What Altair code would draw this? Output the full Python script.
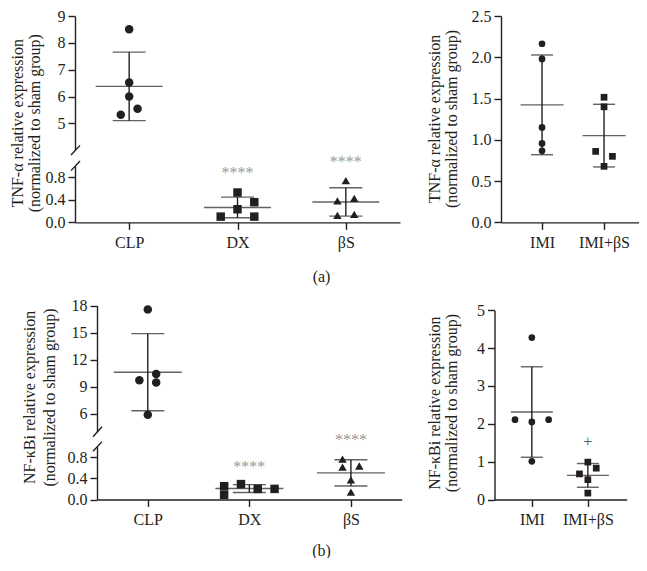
import altair as alt
import pandas as pd

FONT = "Liberation Serif"
INK = "#231f20"
STAR = "#9a9a9a"
FS = 16

# ---------------- data ----------------
# (a) left : TNF-alpha (broken axis)
a_groups = ["CLP", "DX", "βS"]
a_clp = [8.51, 6.52, 6.00, 5.54, 5.32]
a_clp_slot = [0, 0, 0, 1, -1]
a_dx = [0.528, 0.357, 0.233, 0.102, 0.102]
a_dx_slot = [0, 2, 0, -2, 2]
a_bs = [0.737, 0.379, 0.424, 0.124, 0.141]
a_bs_slot = [0, -1, 1, -1, 1]
a_star_groups = ["DX", "βS"]
a_star_pos = [0.907, 1.094]

# (a) right : TNF-alpha
ar_groups = ["IMI", "IMI+βS"]
ar_imi = [2.164, 1.98, 1.15, 0.957, 0.868]
ar_imi_slot = [0, 0, 0, 0, 0]
ar_ibs = [1.516, 1.40, 0.86, 0.80, 0.679]
ar_ibs_slot = [0, 0, -1, 1, 0]

# (b) left : NF-kBi (broken axis)
b_clp = [17.57, 10.41, 9.70, 9.46, 5.87]
b_clp_slot = [0, 1, -1, 1, 0]
b_dx = [0.25, 0.09, 0.29, 0.20, 0.20]
b_dx_slot = [-3, -3, -1, 1, 3]
b_bs = [0.76, 0.61, 0.63, 0.37, 0.14]
b_bs_slot = [-1, -1, 1, 0, 0]
b_star_groups = ["DX", "βS"]
b_star_pos = [0.65, 1.16]

# (b) right : NF-kBi
br_imi = [4.28, 2.11, 2.05, 2.11, 1.01]
br_imi_slot = [0, -2, 0, 2, 0]
br_ibs = [0.988, 0.828, 0.676, 0.524, 0.169]
br_ibs_slot = [0, 1, -1, 0, 0]
br_plus_group = ["IMI+βS"]
br_plus_pos = [1.495]

SHAPE_DOM = ["CLP", "DX", "βS", "IMI", "IMI+βS"]
SHAPE_RANGE = ["circle", "square", "triangle-up", "circle", "square"]

TNF_TITLE = ["TNF-α relative expression", "(normalized to sham group)"]
NFK_TITLE = ["NF-κBi relative expression", "(normalized to sham group)"]


def frame(pairs):
    rows = []
    for g, vals, slots in pairs:
        for v, s in zip(vals, slots):
            rows.append({"group": g, "v": v, "slot": s})
    return pd.DataFrame(rows)


def xenc(groups, rng, pad, align, xoff, title, tx, ty):
    return alt.X("group:N", sort=groups,
                 scale=alt.Scale(type="point", domain=groups, range=rng, padding=pad, align=align),
                 axis=alt.Axis(title=title, titleX=tx, titleY=ty, titleAngle=0, titleAlign="center",
                               titleBaseline="middle", offset=xoff, labelAngle=0, labelPadding=5,
                               grid=False))


def ymaker(dom, rng, vals, fmt, yoff, title=None, tx=0, ty=0, lh=17):
    def Y(field):
        ax = dict(values=vals, format=fmt, orient="left", offset=yoff, grid=False, labelPadding=3)
        if title is not None:
            ax.update(title=title, titleX=tx, titleY=ty, titleLineHeight=lh, titleAngle=-90,
                      titleBaseline="bottom", titleAlign="center")
        else:
            ax["title"] = None
        return alt.Y(field, type="quantitative",
                     scale=alt.Scale(domain=dom, range=rng, nice=False, zero=False),
                     axis=alt.Axis(**ax))
    return Y


def marks(df, X, Y, slot_px, pt, mean_w, cap_w, texts=None, text_dy=7, text_color=STAR,
          brk=None, brk_x=(0, 0)):
    base = alt.Chart(df)
    pts = base.mark_point(filled=True, opacity=1, size=pt, color=INK, strokeWidth=0).encode(
        x=X,
        xOffset=alt.XOffset("slot:Q", scale=alt.Scale(domain=[-1, 1], range=[-slot_px, slot_px])),
        y=Y("v"),
        shape=alt.Shape("group:N", scale=alt.Scale(domain=SHAPE_DOM, range=SHAPE_RANGE), legend=None),
    )
    stats = base.transform_aggregate(m="mean(v)", s="stdev(v)", groupby=["group"]).transform_calculate(
        lo="datum.m - datum.s", hi="datum.m + datum.s")
    mean = stats.mark_tick(size=mean_w, thickness=1.4, color=INK).encode(x=X, y=Y("m"))
    bar = stats.mark_rule(strokeWidth=1.4, color=INK).encode(x=X, y=Y("lo"), y2="hi")
    lo = stats.mark_tick(size=cap_w, thickness=1.4, color=INK).encode(x=X, y=Y("lo"))
    hi = stats.mark_tick(size=cap_w, thickness=1.4, color=INK).encode(x=X, y=Y("hi"))
    layers = [bar, lo, hi, mean, pts]
    if texts is not None:
        tdf, tstr = texts
        layers.append(alt.Chart(tdf).mark_text(text=tstr, font=FONT, fontSize=FS, color=text_color,
                                                baseline="alphabetic", dy=text_dy).encode(x=X, y=Y("v")))
    if brk is not None:
        bdf = pd.DataFrame({"v": [brk[0]], "v2": [brk[1]]})
        layers.append(alt.Chart(bdf).mark_rule(strokeWidth=1.4, color=INK).encode(
            x=alt.value(brk_x[0]), x2=alt.value(brk_x[1]), y=Y("v"), y2="v2"))
    return alt.layer(*layers)


# ---------------- (a) left tile: page x 8..415, y 8..290 ----------------
XA = xenc(a_groups, [67, 392], 0.5, 0.5, -67.6, "(a)", 313, 54.2)
YA_up = ymaker([4, 9], [142.2, 8], [5, 6, 7, 8, 9], "d", -67,
               title=TNF_TITLE, tx=-50, ty=114.7, lh=17)
YA_lo = ymaker([0, 1], [214.4, 157.8], [0, 0.4, 0.8], ".1f", -67)
a_left = alt.layer(
    marks(frame([("CLP", a_clp, a_clp_slot)]), XA, YA_up, 8.4, 72, 67, 33,
          brk=(3.82, 4.18), brk_x=(63, 72)),
    marks(frame([("DX", a_dx, a_dx_slot), ("βS", a_bs, a_bs_slot)]), XA, YA_lo, 8.4, 72, 67, 33,
          texts=(pd.DataFrame({"group": a_star_groups, "v": a_star_pos}), "****"),
          brk=(0.915, 1.085), brk_x=(63, 72)),
).resolve_scale(y="independent").resolve_axis(y="independent").properties(width=407, height=282)

# ---------------- (a) right tile: page x 415..639, y 8..290 ----------------
XAr = xenc(ar_groups, [86, 224], 0.613, 0.54, -67.6, None, 0, 0)
YAr = ymaker([0, 2.5], [214.4, 8], [0, 0.5, 1.0, 1.5, 2.0, 2.5], ".1f", -86,
             title=TNF_TITLE, tx=-58.5, ty=110.4, lh=17)
a_right = marks(frame([("IMI", ar_imi, ar_imi_slot), ("IMI+βS", ar_ibs, ar_ibs_slot)]),
                XAr, YAr, 6.5, 45, 43, 22).properties(width=224, height=282)

# ---------------- (b) left tile: page x 8..412, y 290..558 ----------------
XB = xenc(a_groups, [89, 393.7], 0.5, 0.5, -58.5, "(b)", 313, 50.5)
YB_up = ymaker([4, 18], [141.7, 15.5], [6, 9, 12, 15, 18], "d", -89,
               title=NFK_TITLE, tx=-60, ty=106.9, lh=20)
YB_lo = ymaker([0, 1], [209.5, 156.4], [0, 0.4, 0.8], ".1f", -89)
b_left = alt.layer(
    marks(frame([("CLP", b_clp, b_clp_slot)]), XB, YB_up, 8.2, 72, 68, 33,
          brk=(3.45, 4.55), brk_x=(85, 94)),
    marks(frame([("DX", b_dx, b_dx_slot), ("βS", b_bs, b_bs_slot)]), XB, YB_lo, 8.2, 72, 68, 33,
          texts=(pd.DataFrame({"group": b_star_groups, "v": b_star_pos}), "****"),
          brk=(0.91, 1.09), brk_x=(85, 94)),
).resolve_scale(y="independent").resolve_axis(y="independent").properties(width=404, height=268)

# ---------------- (b) right tile: page x 412..639, y 290..558 ----------------
XBr = xenc(ar_groups, [82.5, 214.7], 0.68, 0.49, -58.5, None, 0, 0)
YBr = ymaker([0, 5], [209.5, 20.3], [0, 1, 2, 3, 4, 5], "d", -82.5,
             title=NFK_TITLE, tx=-52.5, ty=112.6, lh=17)
b_right = marks(frame([("IMI", br_imi, br_imi_slot), ("IMI+βS", br_ibs, br_ibs_slot)]),
                XBr, YBr, 5.9, 45, 42, 22,
                texts=(pd.DataFrame({"group": br_plus_group, "v": br_plus_pos}), "+"),
                text_dy=4, text_color="#555555").properties(width=227, height=268)

row_a = alt.hconcat(a_left, a_right, spacing=0)
row_b = alt.hconcat(b_left, b_right, spacing=0)

chart = alt.vconcat(row_a, row_b, spacing=0).properties(
    padding={"left": 0, "top": 0, "right": 0, "bottom": 0}
).configure_view(stroke=None).configure_axis(
    labelFont=FONT, titleFont=FONT, labelFontSize=FS, titleFontSize=FS,
    labelColor=INK, titleColor=INK, domainColor=INK, tickColor=INK,
    domainWidth=1.4, tickWidth=1.4, tickSize=7, titleFontWeight="normal"
)

chart.save("out.html", embed_options={"renderer": "svg", "actions": False})
